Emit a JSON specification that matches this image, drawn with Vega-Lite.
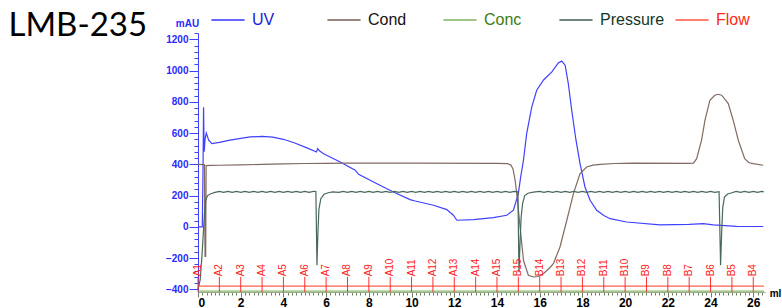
{
  "$schema": "https://vega.github.io/schema/vega-lite/v6.json",
  "autosize": {"type": "none"},
  "padding": {"left": 198, "top": 33, "right": 17, "bottom": 16},
  "width": 567,
  "height": 259,
  "datasets": {
    "traces": [
      {"s": "UV", "x": 0, "y": 0}, {"s": "UV", "x": 0.2, "y": 0}, {"s": "UV", "x": 0.23, "y": 300}, {"s": "UV", "x": 0.26, "y": 765}, {"s": "UV", "x": 0.29, "y": 480}, {"s": "UV", "x": 0.33, "y": 560}, {"s": "UV", "x": 0.39, "y": 600}, {"s": "UV", "x": 0.5, "y": 555}, {"s": "UV", "x": 0.65, "y": 532}, {"s": "UV", "x": 1.0, "y": 540}, {"s": "UV", "x": 1.5, "y": 555}, {"s": "UV", "x": 2.0, "y": 566}, {"s": "UV", "x": 2.45, "y": 575}, {"s": "UV", "x": 3.0, "y": 578}, {"s": "UV", "x": 3.5, "y": 574}, {"s": "UV", "x": 4.0, "y": 560}, {"s": "UV", "x": 4.5, "y": 538}, {"s": "UV", "x": 5.1, "y": 505}, {"s": "UV", "x": 5.55, "y": 479}, {"s": "UV", "x": 5.6, "y": 500}, {"s": "UV", "x": 5.64, "y": 494}, {"s": "UV", "x": 5.7, "y": 485}, {"s": "UV", "x": 5.88, "y": 468}, {"s": "UV", "x": 6.66, "y": 415}, {"s": "UV", "x": 7.36, "y": 362}, {"s": "UV", "x": 7.52, "y": 336}, {"s": "UV", "x": 8.38, "y": 276}, {"s": "UV", "x": 9.15, "y": 223}, {"s": "UV", "x": 9.93, "y": 174}, {"s": "UV", "x": 10.17, "y": 165}, {"s": "UV", "x": 11.03, "y": 138}, {"s": "UV", "x": 11.65, "y": 110}, {"s": "UV", "x": 11.96, "y": 74}, {"s": "UV", "x": 12.12, "y": 42}, {"s": "UV", "x": 12.9, "y": 46}, {"s": "UV", "x": 13.83, "y": 59}, {"s": "UV", "x": 14.46, "y": 74}, {"s": "UV", "x": 14.77, "y": 106}, {"s": "UV", "x": 15.0, "y": 212}, {"s": "UV", "x": 15.11, "y": 319}, {"s": "UV", "x": 15.24, "y": 426}, {"s": "UV", "x": 15.39, "y": 596}, {"s": "UV", "x": 15.63, "y": 767}, {"s": "UV", "x": 15.86, "y": 874}, {"s": "UV", "x": 16.17, "y": 938}, {"s": "UV", "x": 16.57, "y": 991}, {"s": "UV", "x": 16.87, "y": 1048}, {"s": "UV", "x": 17.03, "y": 1060}, {"s": "UV", "x": 17.19, "y": 1034}, {"s": "UV", "x": 17.34, "y": 916}, {"s": "UV", "x": 17.5, "y": 746}, {"s": "UV", "x": 17.7, "y": 554}, {"s": "UV", "x": 17.89, "y": 404}, {"s": "UV", "x": 18.12, "y": 255}, {"s": "UV", "x": 18.36, "y": 170}, {"s": "UV", "x": 18.67, "y": 106}, {"s": "UV", "x": 19.0, "y": 72}, {"s": "UV", "x": 19.3, "y": 52}, {"s": "UV", "x": 20.07, "y": 31}, {"s": "UV", "x": 21.63, "y": 12}, {"s": "UV", "x": 23.0, "y": 16}, {"s": "UV", "x": 23.66, "y": 20}, {"s": "UV", "x": 24.13, "y": 12}, {"s": "UV", "x": 25.22, "y": 3}, {"s": "UV", "x": 26.47, "y": 2},
      {"s": "Cond", "x": 0, "y": 400}, {"s": "Cond", "x": 0.3, "y": 398}, {"s": "Cond", "x": 0.33, "y": -190}, {"s": "Cond", "x": 0.36, "y": -190}, {"s": "Cond", "x": 0.38, "y": 392}, {"s": "Cond", "x": 0.6, "y": 393}, {"s": "Cond", "x": 1, "y": 394}, {"s": "Cond", "x": 2, "y": 396}, {"s": "Cond", "x": 3, "y": 400}, {"s": "Cond", "x": 4, "y": 403}, {"s": "Cond", "x": 5, "y": 405}, {"s": "Cond", "x": 6, "y": 406}, {"s": "Cond", "x": 7, "y": 407}, {"s": "Cond", "x": 10, "y": 407}, {"s": "Cond", "x": 14, "y": 406}, {"s": "Cond", "x": 14.5, "y": 404}, {"s": "Cond", "x": 14.65, "y": 395}, {"s": "Cond", "x": 14.75, "y": 370}, {"s": "Cond", "x": 14.85, "y": 298}, {"s": "Cond", "x": 14.96, "y": 170}, {"s": "Cond", "x": 15.08, "y": 0}, {"s": "Cond", "x": 15.24, "y": -214}, {"s": "Cond", "x": 15.47, "y": -310}, {"s": "Cond", "x": 15.7, "y": -321}, {"s": "Cond", "x": 15.95, "y": -318}, {"s": "Cond", "x": 16.17, "y": -300}, {"s": "Cond", "x": 16.45, "y": -265}, {"s": "Cond", "x": 16.64, "y": -236}, {"s": "Cond", "x": 16.95, "y": -129}, {"s": "Cond", "x": 17.27, "y": 42}, {"s": "Cond", "x": 17.58, "y": 212}, {"s": "Cond", "x": 17.89, "y": 340}, {"s": "Cond", "x": 18.2, "y": 383}, {"s": "Cond", "x": 18.5, "y": 395}, {"s": "Cond", "x": 18.83, "y": 400}, {"s": "Cond", "x": 19.5, "y": 405}, {"s": "Cond", "x": 20.4, "y": 408}, {"s": "Cond", "x": 23, "y": 406}, {"s": "Cond", "x": 23.2, "y": 408}, {"s": "Cond", "x": 23.35, "y": 436}, {"s": "Cond", "x": 23.58, "y": 554}, {"s": "Cond", "x": 23.74, "y": 682}, {"s": "Cond", "x": 23.97, "y": 810}, {"s": "Cond", "x": 24.2, "y": 842}, {"s": "Cond", "x": 24.35, "y": 848}, {"s": "Cond", "x": 24.52, "y": 842}, {"s": "Cond", "x": 24.83, "y": 788}, {"s": "Cond", "x": 25.06, "y": 682}, {"s": "Cond", "x": 25.3, "y": 554}, {"s": "Cond", "x": 25.6, "y": 436}, {"s": "Cond", "x": 25.8, "y": 410}, {"s": "Cond", "x": 26.0, "y": 404}, {"s": "Cond", "x": 26.47, "y": 394},
      {"s": "Conc", "x": 0, "y": -411}, {"s": "Conc", "x": 26.5, "y": -411},
      {"s": "Flow", "x": 0, "y": -379}, {"s": "Flow", "x": 26.5, "y": -379},
      {"s": "Pressure", "x": 0, "y": -400}, {"s": "Pressure", "x": 0.1, "y": -340}, {"s": "Pressure", "x": 0.18, "y": -200}, {"s": "Pressure", "x": 0.24, "y": -60}, {"s": "Pressure", "x": 0.3, "y": 80}, {"s": "Pressure", "x": 0.36, "y": 170}, {"s": "Pressure", "x": 0.45, "y": 200}, {"s": "Pressure", "x": 0.6, "y": 212}, {"s": "Pressure", "x": 0.8, "y": 220},
      {"s": "Pressure", "x": 1.0, "y": 227}, {"s": "Pressure", "x": 1.2, "y": 220}, {"s": "Pressure", "x": 1.4, "y": 227}, {"s": "Pressure", "x": 1.6, "y": 220}, {"s": "Pressure", "x": 1.8, "y": 227}, {"s": "Pressure", "x": 2.0, "y": 220}, {"s": "Pressure", "x": 2.2, "y": 227}, {"s": "Pressure", "x": 2.4, "y": 220}, {"s": "Pressure", "x": 2.6, "y": 227}, {"s": "Pressure", "x": 2.8, "y": 220}, {"s": "Pressure", "x": 3.0, "y": 227}, {"s": "Pressure", "x": 3.2, "y": 220}, {"s": "Pressure", "x": 3.4, "y": 227}, {"s": "Pressure", "x": 3.6, "y": 220}, {"s": "Pressure", "x": 3.8, "y": 227}, {"s": "Pressure", "x": 4.0, "y": 220}, {"s": "Pressure", "x": 4.2, "y": 227}, {"s": "Pressure", "x": 4.4, "y": 220}, {"s": "Pressure", "x": 4.6, "y": 227}, {"s": "Pressure", "x": 4.8, "y": 220}, {"s": "Pressure", "x": 5.0, "y": 227}, {"s": "Pressure", "x": 5.2, "y": 220}, {"s": "Pressure", "x": 5.4, "y": 227},
      {"s": "Pressure", "x": 5.52, "y": 226}, {"s": "Pressure", "x": 5.57, "y": -246}, {"s": "Pressure", "x": 5.61, "y": -60}, {"s": "Pressure", "x": 5.66, "y": 110}, {"s": "Pressure", "x": 5.75, "y": 180}, {"s": "Pressure", "x": 5.9, "y": 208}, {"s": "Pressure", "x": 6.1, "y": 218}, {"s": "Pressure", "x": 6.3, "y": 224},
      {"s": "Pressure", "x": 6.6, "y": 220}, {"s": "Pressure", "x": 6.8, "y": 227}, {"s": "Pressure", "x": 7.0, "y": 220}, {"s": "Pressure", "x": 7.2, "y": 227}, {"s": "Pressure", "x": 7.4, "y": 220}, {"s": "Pressure", "x": 7.6, "y": 227}, {"s": "Pressure", "x": 7.8, "y": 220}, {"s": "Pressure", "x": 8.0, "y": 227}, {"s": "Pressure", "x": 8.2, "y": 220}, {"s": "Pressure", "x": 8.4, "y": 227}, {"s": "Pressure", "x": 8.6, "y": 220}, {"s": "Pressure", "x": 8.8, "y": 227}, {"s": "Pressure", "x": 9.0, "y": 220}, {"s": "Pressure", "x": 9.2, "y": 227}, {"s": "Pressure", "x": 9.4, "y": 220}, {"s": "Pressure", "x": 9.6, "y": 227}, {"s": "Pressure", "x": 9.8, "y": 220}, {"s": "Pressure", "x": 10.0, "y": 227}, {"s": "Pressure", "x": 10.2, "y": 220}, {"s": "Pressure", "x": 10.4, "y": 227}, {"s": "Pressure", "x": 10.6, "y": 220}, {"s": "Pressure", "x": 10.8, "y": 227}, {"s": "Pressure", "x": 11.0, "y": 220}, {"s": "Pressure", "x": 11.2, "y": 227}, {"s": "Pressure", "x": 11.4, "y": 220}, {"s": "Pressure", "x": 11.6, "y": 227}, {"s": "Pressure", "x": 11.8, "y": 220}, {"s": "Pressure", "x": 12.0, "y": 227}, {"s": "Pressure", "x": 12.2, "y": 220}, {"s": "Pressure", "x": 12.4, "y": 227}, {"s": "Pressure", "x": 12.6, "y": 220}, {"s": "Pressure", "x": 12.8, "y": 227}, {"s": "Pressure", "x": 13.0, "y": 220}, {"s": "Pressure", "x": 13.2, "y": 227}, {"s": "Pressure", "x": 13.4, "y": 220}, {"s": "Pressure", "x": 13.6, "y": 227}, {"s": "Pressure", "x": 13.8, "y": 220}, {"s": "Pressure", "x": 14.0, "y": 227}, {"s": "Pressure", "x": 14.2, "y": 220}, {"s": "Pressure", "x": 14.4, "y": 227}, {"s": "Pressure", "x": 14.6, "y": 220}, {"s": "Pressure", "x": 14.8, "y": 227},
      {"s": "Pressure", "x": 14.98, "y": 224}, {"s": "Pressure", "x": 15.03, "y": -290}, {"s": "Pressure", "x": 15.08, "y": -100}, {"s": "Pressure", "x": 15.13, "y": 60}, {"s": "Pressure", "x": 15.2, "y": 150}, {"s": "Pressure", "x": 15.3, "y": 200}, {"s": "Pressure", "x": 15.45, "y": 215}, {"s": "Pressure", "x": 15.7, "y": 222},
      {"s": "Pressure", "x": 16.0, "y": 227}, {"s": "Pressure", "x": 16.2, "y": 220}, {"s": "Pressure", "x": 16.4, "y": 227}, {"s": "Pressure", "x": 16.6, "y": 220}, {"s": "Pressure", "x": 16.8, "y": 227}, {"s": "Pressure", "x": 17.0, "y": 220}, {"s": "Pressure", "x": 17.2, "y": 227}, {"s": "Pressure", "x": 17.4, "y": 220}, {"s": "Pressure", "x": 17.6, "y": 227}, {"s": "Pressure", "x": 17.8, "y": 220}, {"s": "Pressure", "x": 18.0, "y": 227}, {"s": "Pressure", "x": 18.2, "y": 220}, {"s": "Pressure", "x": 18.4, "y": 227}, {"s": "Pressure", "x": 18.6, "y": 220}, {"s": "Pressure", "x": 18.8, "y": 227}, {"s": "Pressure", "x": 19.0, "y": 220}, {"s": "Pressure", "x": 19.2, "y": 227}, {"s": "Pressure", "x": 19.4, "y": 220}, {"s": "Pressure", "x": 19.6, "y": 227}, {"s": "Pressure", "x": 19.8, "y": 220}, {"s": "Pressure", "x": 20.0, "y": 227}, {"s": "Pressure", "x": 20.2, "y": 220}, {"s": "Pressure", "x": 20.4, "y": 227}, {"s": "Pressure", "x": 20.6, "y": 220}, {"s": "Pressure", "x": 20.8, "y": 227}, {"s": "Pressure", "x": 21.0, "y": 220}, {"s": "Pressure", "x": 21.2, "y": 227}, {"s": "Pressure", "x": 21.4, "y": 220}, {"s": "Pressure", "x": 21.6, "y": 227}, {"s": "Pressure", "x": 21.8, "y": 220}, {"s": "Pressure", "x": 22.0, "y": 227}, {"s": "Pressure", "x": 22.2, "y": 220}, {"s": "Pressure", "x": 22.4, "y": 227}, {"s": "Pressure", "x": 22.6, "y": 220}, {"s": "Pressure", "x": 22.8, "y": 227}, {"s": "Pressure", "x": 23.0, "y": 220}, {"s": "Pressure", "x": 23.2, "y": 227}, {"s": "Pressure", "x": 23.4, "y": 220}, {"s": "Pressure", "x": 23.6, "y": 227}, {"s": "Pressure", "x": 23.8, "y": 220}, {"s": "Pressure", "x": 24.0, "y": 227}, {"s": "Pressure", "x": 24.2, "y": 220},
      {"s": "Pressure", "x": 24.4, "y": 225}, {"s": "Pressure", "x": 24.47, "y": -245}, {"s": "Pressure", "x": 24.52, "y": -40}, {"s": "Pressure", "x": 24.57, "y": 120}, {"s": "Pressure", "x": 24.65, "y": 190}, {"s": "Pressure", "x": 24.8, "y": 210}, {"s": "Pressure", "x": 25.0, "y": 218},
      {"s": "Pressure", "x": 25.2, "y": 227}, {"s": "Pressure", "x": 25.4, "y": 220}, {"s": "Pressure", "x": 25.6, "y": 227}, {"s": "Pressure", "x": 25.8, "y": 220}, {"s": "Pressure", "x": 26.0, "y": 227}, {"s": "Pressure", "x": 26.2, "y": 220}, {"s": "Pressure", "x": 26.4, "y": 227}, {"s": "Pressure", "x": 26.5, "y": 223}
    ],
    "fractions": [
      {"f": "A1", "x": 0}, {"f": "A2", "x": 1}, {"f": "A3", "x": 2}, {"f": "A4", "x": 3}, {"f": "A5", "x": 4}, {"f": "A6", "x": 5}, {"f": "A7", "x": 6}, {"f": "A8", "x": 7}, {"f": "A9", "x": 8}, {"f": "A10", "x": 9}, {"f": "A11", "x": 10}, {"f": "A12", "x": 11}, {"f": "A13", "x": 12}, {"f": "A14", "x": 13}, {"f": "A15", "x": 14}, {"f": "B15", "x": 15}, {"f": "B14", "x": 16}, {"f": "B13", "x": 17}, {"f": "B12", "x": 18}, {"f": "B11", "x": 19}, {"f": "B10", "x": 20}, {"f": "B9", "x": 21}, {"f": "B8", "x": 22}, {"f": "B7", "x": 23}, {"f": "B6", "x": 24}, {"f": "B5", "x": 25}, {"f": "B4", "x": 26}
    ]
  },
  "resolve": {"axis": {"x": "independent", "y": "independent"}},
  "layer": [
    {
      "data": {"name": "traces"},
      "mark": {"type": "line", "opacity": 0},
      "encoding": {
        "x": {"field": "x", "type": "quantitative", "scale": {"domain": [0, 26.55], "nice": false, "zero": false},
          "axis": {"orient": "bottom", "title": null, "labels": false, "domain": false, "grid": false, "tickCount": 130, "tickSize": 3, "tickColor": "#6f7f62", "tickWidth": 1}},
        "y": {"field": "y", "type": "quantitative", "scale": {"domain": [-417, 1240], "nice": false, "zero": false},
          "axis": {"orient": "left", "title": "LMB-235", "titleAngle": 0, "titleX": -190, "titleY": 2, "titleAlign": "left", "titleBaseline": "alphabetic", "titleFont": "Lato", "titleFontSize": 33, "titleFontWeight": "normal", "titleColor": "#000000",
            "labels": false, "domain": false, "grid": false, "tickSize": 4, "tickColor": "#4040ff", "values": [-400, -360, -320, -280, -240, -200, -160, -120, -80, -40, 0, 40, 80, 120, 160, 200, 240, 280, 320, 360, 400, 440, 480, 520, 560, 600, 640, 680, 720, 760, 800, 840, 880, 920, 960, 1000, 1040, 1080, 1120, 1160, 1200, 1240]}}
      }
    },
    {
      "data": {"name": "traces"},
      "mark": {"type": "line", "strokeWidth": 1.2},
      "encoding": {
        "x": {"field": "x", "type": "quantitative", "scale": {"domain": [0, 26.55], "nice": false, "zero": false},
          "axis": {"orient": "bottom", "title": "ml", "titleX": 577, "titleY": 1.5, "titleAlign": "center", "titleBaseline": "middle", "titleFontSize": 10, "titleFontWeight": "bold", "titleFont": "Liberation Sans", "titleColor": "#000000",
            "values": [0, 2, 4, 6, 8, 10, 12, 14, 16, 18, 20, 22, 24, 26], "tickSize": 5, "tickColor": "#6f7f62", "domainColor": "#9aab88", "labelFont": "Liberation Sans", "labelFontSize": 12, "labelFontWeight": "bold", "labelColor": "#000000", "labelPadding": 0, "grid": false}},
        "y": {"field": "y", "type": "quantitative", "scale": {"domain": [-417, 1240], "nice": false, "zero": false},
          "axis": {"orient": "left", "title": "mAU", "titleAngle": 0, "titleX": -11, "titleY": -10, "titleAlign": "center", "titleBaseline": "middle", "titleFontSize": 10, "titleFontWeight": "bold", "titleFont": "Liberation Sans", "titleColor": "#2a2aff", "format": "d",
            "values": [-400, -200, 0, 200, 400, 600, 800, 1000, 1200], "tickSize": 9, "tickColor": "#4040ff", "domainColor": "#4040ff", "labelFont": "Liberation Sans", "labelFontSize": 10, "labelFontWeight": "bold", "labelColor": "#2a2aff", "labelPadding": 1, "grid": false}},
        "color": {"field": "s", "type": "nominal",
          "scale": {"domain": ["UV", "Cond", "Conc", "Pressure", "Flow"], "range": ["#4040ff", "#806a62", "#86b86a", "#48685a", "#ff6050"]},
          "legend": {"orient": "none", "legendX": 12, "legendY": -31, "direction": "horizontal", "columns": 5, "gridAlign": "all", "columnPadding": 6, "title": null,
            "symbolType": "stroke", "symbolSize": 1100, "symbolStrokeWidth": 2, "symbolOpacity": 0.8, "labelFont": "Liberation Sans", "labelFontSize": 16, "labelOffset": 6, "labelLimit": 200,
            "encode": {"labels": {"update": {"fill": {"signal": "datum.value === 'UV' ? '#2020e0' : datum.value === 'Cond' ? '#201010' : datum.value === 'Conc' ? '#3a7d10' : datum.value === 'Pressure' ? '#143826' : '#ff2a10'"}}}}}}
      }
    },
    {
      "data": {"name": "fractions"},
      "mark": {"type": "rule", "color": "#ff3030", "strokeWidth": 1},
      "encoding": {
        "x": {"field": "x", "type": "quantitative", "scale": {"domain": [0, 26.55], "nice": false, "zero": false}, "axis": null},
        "y": {"datum": -320, "scale": {"domain": [-417, 1240], "nice": false, "zero": false}, "axis": null},
        "y2": {"datum": -417}
      }
    },
    {
      "data": {"name": "fractions"},
      "mark": {"type": "text", "color": "#ff1a1a", "angle": 270, "align": "left", "baseline": "middle", "fontSize": 10, "font": "Liberation Sans"},
      "encoding": {
        "x": {"field": "x", "type": "quantitative", "scale": {"domain": [0, 26.55], "nice": false, "zero": false}, "axis": null},
        "y": {"datum": -317, "scale": {"domain": [-417, 1240], "nice": false, "zero": false}, "axis": null},
        "text": {"field": "f"}
      }
    }
  ],
  "config": {"view": {"stroke": null}, "axis": {"grid": false}}
}
